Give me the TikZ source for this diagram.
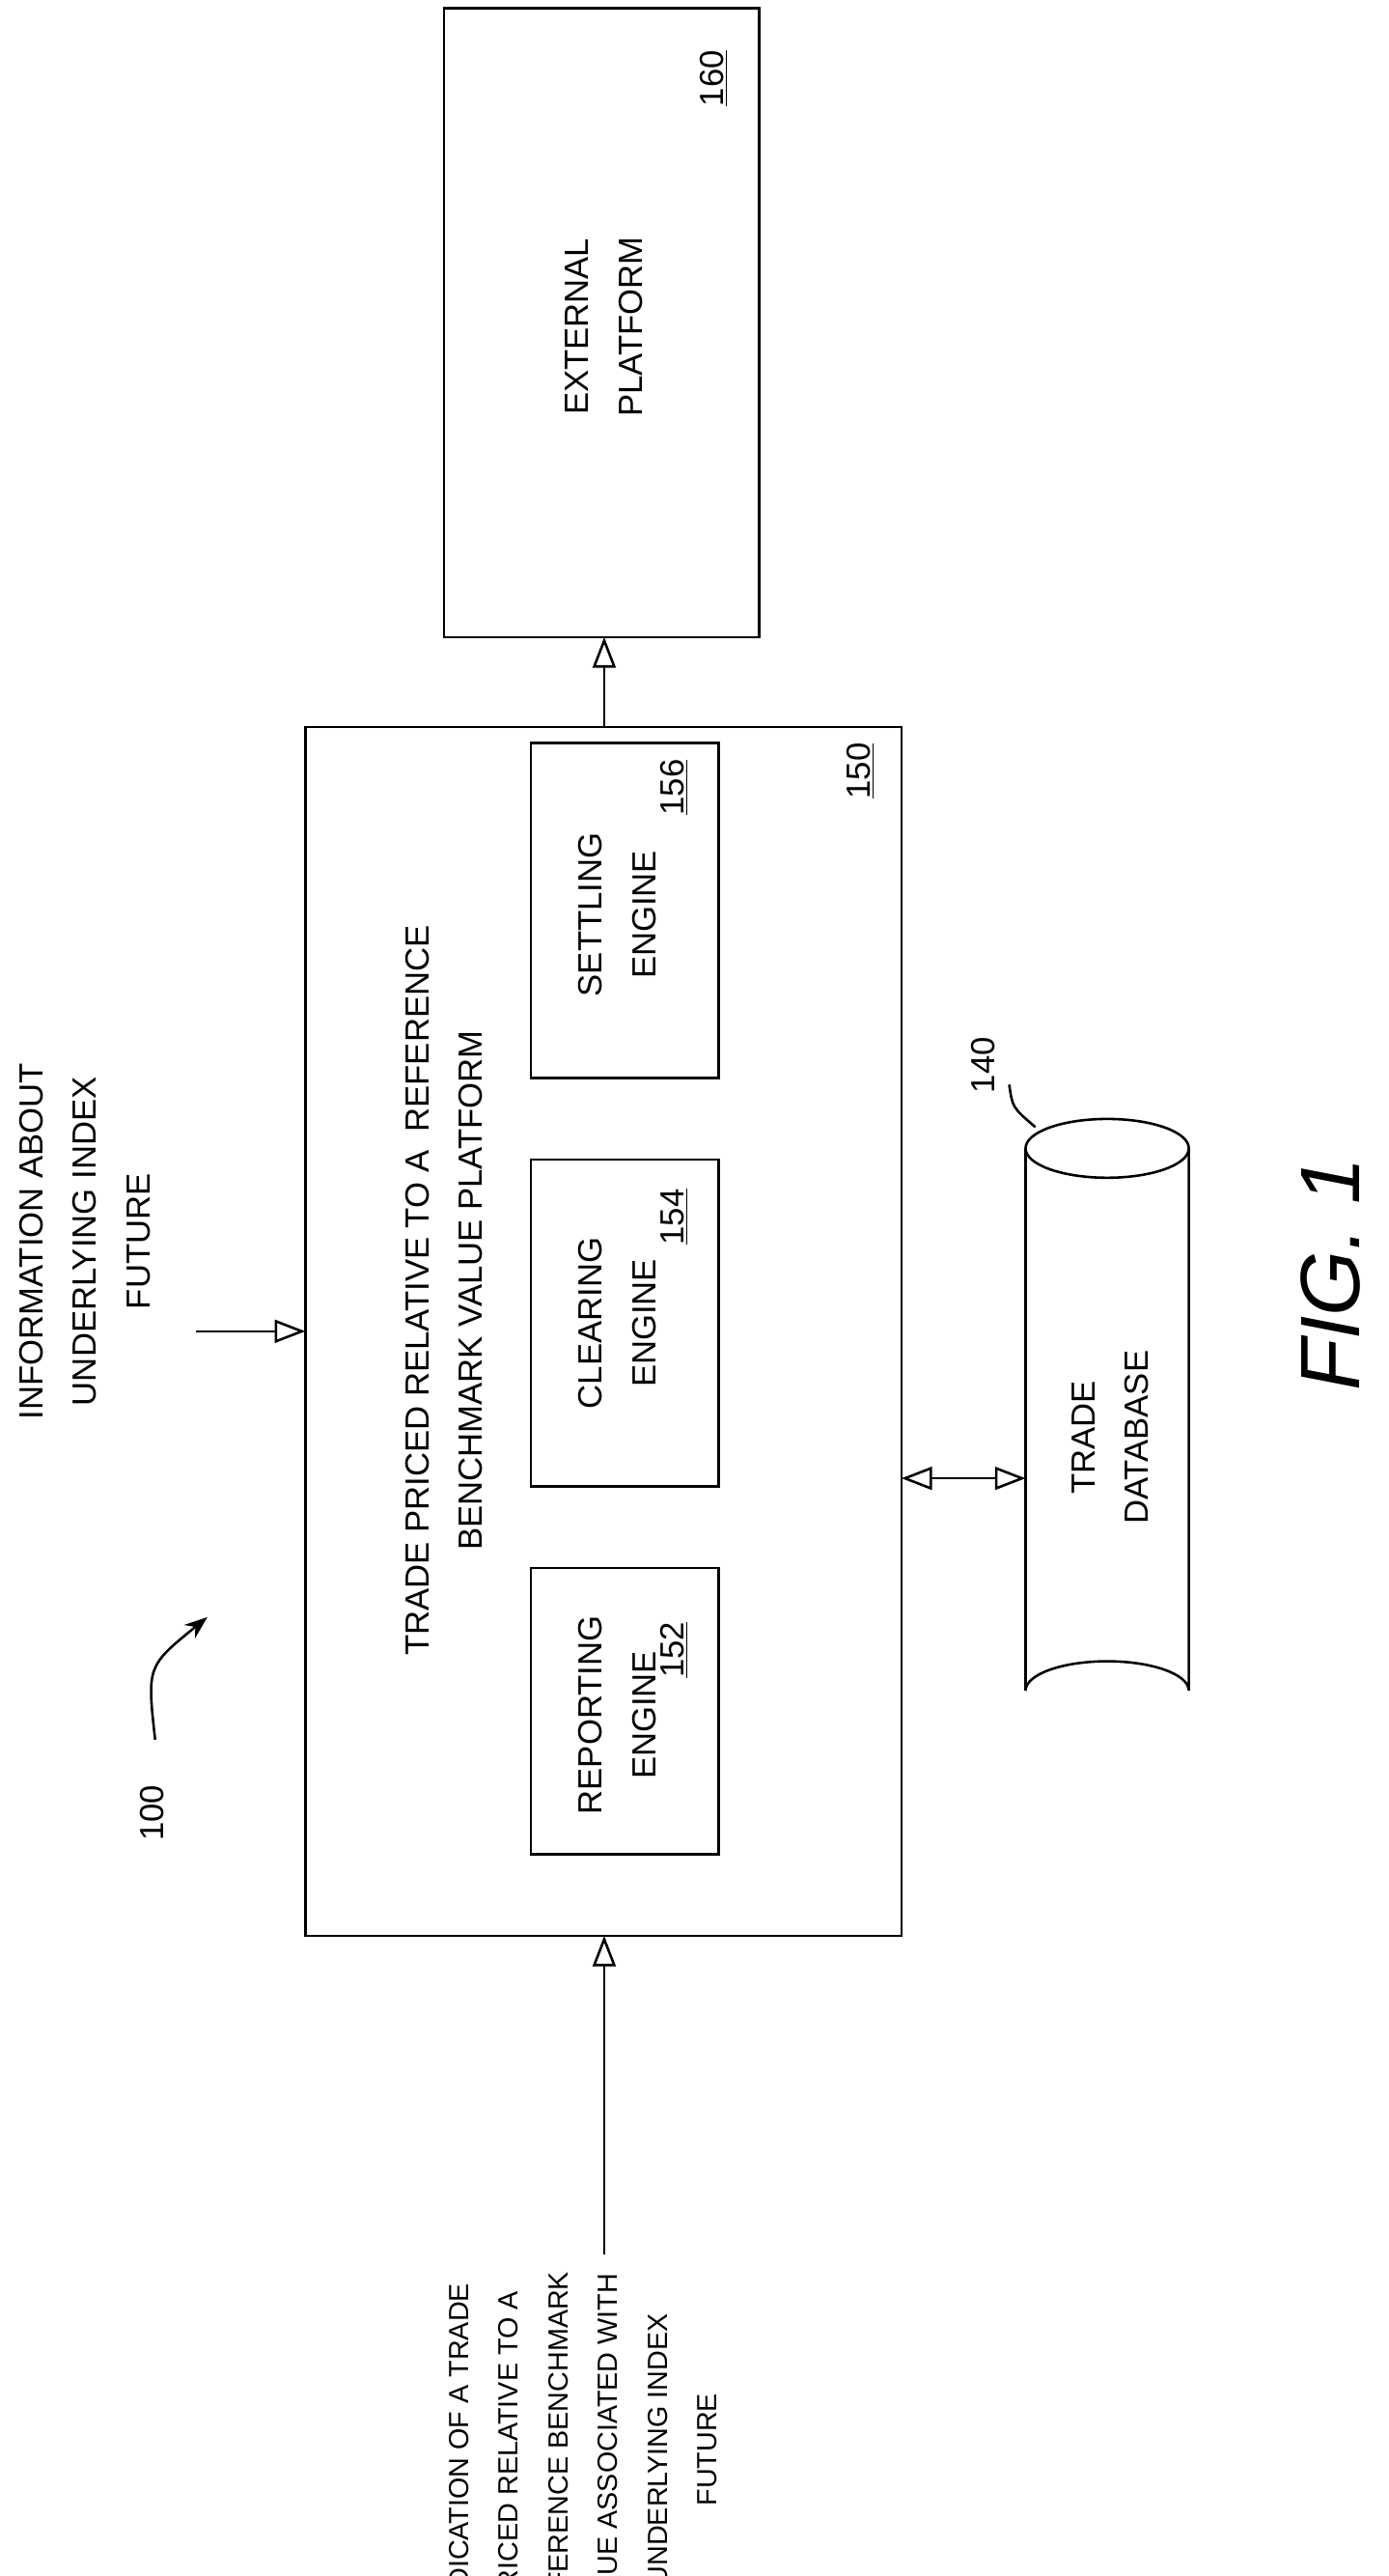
\documentclass[tikz,border=0pt]{standalone}
\usepackage{fontspec}
\setmainfont{Liberation Sans}
\usetikzlibrary{arrows.meta}
\begin{document}
\begin{tikzpicture}[x=0.03cm,y=-0.03cm,
                    line width=1.3pt,
                    font=\fontsize{17.5}{28}\selectfont]
    \tikzset{txt/.style={rotate=90,align=center},
             num/.style={rotate=90},
             arr/.style={-{Triangle[open,length=16pt,width=12pt]}}}
    \useasboundingbox (0,0) rectangle (850,1577);

    % boxes
    \draw (187,445) rectangle (552,1185);
    \coordinate (main-top) at (370,445);
    \coordinate (main-bot) at (370,1185);
    \coordinate (main-left) at (187,815);
    \coordinate (main-right) at (552,905);
    \draw (325,960) rectangle (440,1135);
    \draw (325,710) rectangle (440,910);
    \draw (325,455) rectangle (440,660);
    \draw (272,5) rectangle (465,390);
    \coordinate (ext-bot) at (370,390);

    \node[txt] (platform) at (272,790) {TRADE PRICED RELATIVE TO A\ \ REFERENCE\\BENCHMARK VALUE PLATFORM};
    \node[num] (n150) at (527,472) {\underline{150}};
    \node[txt] (reporting) at (378,1050) {REPORTING\\ENGINE};
    \node[num] (n152) at (413,1010) {\underline{152}};
    \node[txt] (clearing) at (378,810) {CLEARING\\ENGINE};
    \node[num] (n154) at (413,745) {\underline{154}};
    \node[txt] (settling) at (378,560) {SETTLING\\ENGINE};
    \node[num] (n156) at (413,482) {\underline{156}};
    \node[txt] (external) at (370,200) {EXTERNAL\\PLATFORM};
    \node[num] (n160) at (437,48) {\underline{160}};

    % database
    \draw (628,703) -- (628,1035) arc[start angle=180,end angle=360,x radius=50,y radius=18]
          -- (728,703);
    \draw (678,703) ellipse[x radius=50,y radius=18];
    \coordinate (db-left) at (628,905);
    \node[txt] (dbtext) at (680,880) {TRADE\\DATABASE};
    \node[num] (n140) at (602,652) {140};
    \draw (618,664) .. controls (620,678) .. (634,690);

    % inputs
    \node[txt] (info) at (52,760) {INFORMATION ABOUT\\UNDERLYING INDEX\\FUTURE};
    \coordinate (info-end) at (120,815);
    \node[txt,anchor=east,font=\fontsize{14.5}{26}\selectfont] (indication) at (357,1386) {INDICATION OF A TRADE\\PRICED RELATIVE TO A\\REFERENCE BENCHMARK\\VALUE ASSOCIATED WITH\\UNDERLYING INDEX\\FUTURE};
    \coordinate (ind-end) at (370,1380);

    \draw[arr] (info-end) -- (main-left);
    \draw[arr] (ind-end) -- (main-bot);
    \draw[arr] (main-top) -- (ext-bot);
    \draw[{Triangle[open,length=16pt,width=12pt]}-{Triangle[open,length=16pt,width=12pt]}] (main-right) -- (db-left);

    % reference numeral
    \node[num] (n100) at (93,1110) {100};
    \draw[-{Stealth[length=12pt]}] (95,1065) .. controls (90,1020) .. (127,990);

    \node[rotate=90,font=\fontsize{44}{50}\selectfont\itshape] (fig) at (815,780) {FIG. 1};
\end{tikzpicture}
\end{document}
